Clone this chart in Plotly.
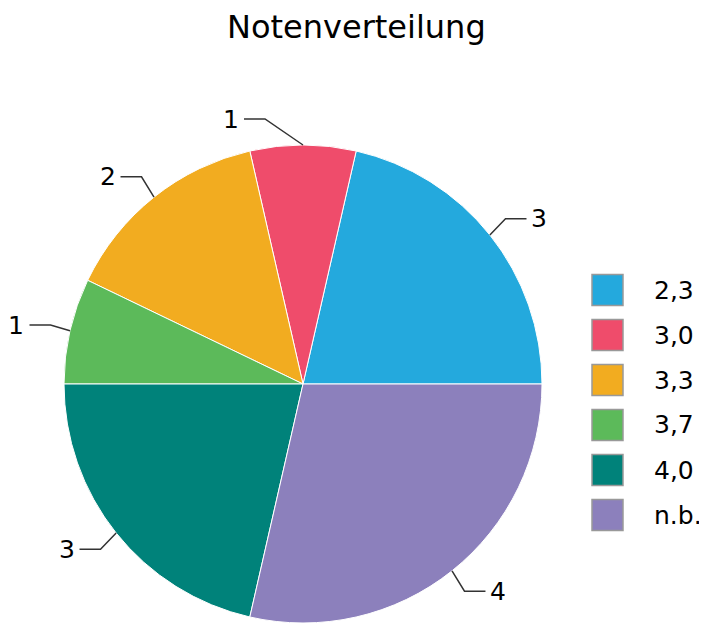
import math
import plotly.graph_objects as go

# ---- data ----
grades = ["2,3", "3,0", "3,3", "3,7", "4,0", "n.b."]
counts = [3, 1, 2, 1, 3, 4]
colors = ["#24A9DD", "#EF4C6B", "#F2AC20", "#5CBA5A", "#00827A", "#8C80BC"]
title_text = "Notenverteilung"

OFF = 8                      # default page margin of the html body
W, H = 707 - OFF, 623 - OFF  # figure size that fits the window
CX, CY, R = 303, 384, 239    # pie centre / radius in window pixels
FONT = "DejaVu Sans"


def px(x):
    return (x - OFF) / W


def py(y):
    return (H - (y - OFF)) / H


total = sum(counts)

fig = go.Figure()
fig.add_trace(go.Pie(
    labels=grades,
    values=counts,
    sort=False,
    direction="counterclockwise",
    # first slice starts at 3 o'clock and runs counter-clockwise
    rotation=90 - 360.0 * counts[0] / total,
    marker=dict(colors=colors, line=dict(color="white", width=1)),
    textinfo="none",
    hoverinfo="label+value",
    showlegend=False,
    domain=dict(x=[px(CX - R), px(CX + R)], y=[max(0, py(CY + R)), py(CY - R)]),
))

shapes = []
annotations = []

# leader lines and value labels derived from the data
start = 0.0
for g, v in zip(grades, counts):
    span = 360.0 * v / total
    mid = math.radians(start + span / 2)
    start += span
    c, s = math.cos(mid), math.sin(mid)
    side = 1 if c > 0.05 else -1
    ex, ey = CX + R * c, CY - R * s
    bx, by = CX + (R + 20) * c, CY - (R + 26) * s
    if abs(c) < 0.05:
        bx += side * 38
    tx = bx + side * 21
    shapes.append(dict(type="path", xref="paper", yref="paper",
                       path=f"M {px(ex)} {py(ey)} L {px(bx)} {py(by)} L {px(tx)} {py(by)}",
                       line=dict(color="#333333", width=1.5)))
    annotations.append(dict(x=px(tx + side * 4), y=py(by), xref="paper", yref="paper",
                            text=str(v), showarrow=False, borderpad=0,
                            xanchor="left" if side > 0 else "right", yanchor="middle",
                            font=dict(family=FONT, size=25, color="#000000")))

# custom legend
LX, LY0, LS, BOX = 592, 290, 45, 31
for i, (g, col) in enumerate(zip(grades, colors)):
    yc = LY0 + i * LS
    shapes.append(dict(type="rect", xref="paper", yref="paper",
                       x0=px(LX), x1=px(LX + BOX), y0=py(yc + BOX / 2), y1=py(yc - BOX / 2),
                       fillcolor=col, line=dict(color="#999999", width=1.5)))
    annotations.append(dict(x=px(652), y=py(yc), xref="paper", yref="paper",
                            text=g, showarrow=False, xanchor="left", yanchor="middle",
                            font=dict(family=FONT, size=25, color="#000000")))

annotations.append(dict(x=px(356), y=py(27), xref="paper", yref="paper", text=title_text,
                        showarrow=False, xanchor="center", yanchor="middle",
                        font=dict(family=FONT, size=32, color="#000000")))

fig.update_layout(
    width=W, height=H,
    margin=dict(l=0, r=0, t=0, b=0),
    paper_bgcolor="white", plot_bgcolor="white",
    shapes=shapes, annotations=annotations,
)

fig.write_html("out.html")
